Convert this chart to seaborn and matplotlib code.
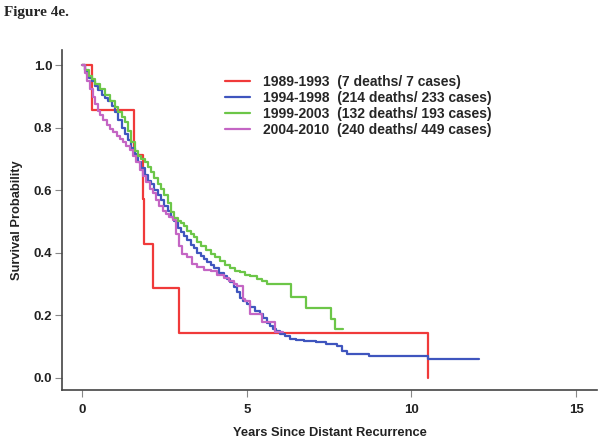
import pandas as pd
import matplotlib
matplotlib.use("Agg")
import matplotlib.pyplot as plt
import seaborn as sns

# Etiquetas de los periodos (leyenda)
periodos = [
    "1989-1993  (7 deaths/ 7 cases)",
    "1994-1998  (214 deaths/ 233 cases)",
    "1999-2003  (132 deaths/ 193 cases)",
    "2004-2010  (240 deaths/ 449 cases)",
]
colores = ["#F03A3A", "#3F55BE", "#6CC648", "#C465C4"]

# Curvas Kaplan-Meier (inicio de cada escalon)
t_1989 = [0, 0.29, 1.58, 1.84, 1.89, 2.15, 2.93, 10.5]
s_1989 = [1.0, 0.857, 0.714, 0.571, 0.429, 0.286, 0.143, 0.0]

t_1994 = [0, 0.08, 0.15, 0.22, 0.30, 0.40, 0.50, 0.60, 0.70, 0.80, 0.90, 1.00,
          1.10, 1.20, 1.30, 1.40, 1.50, 1.60, 1.70, 1.80, 1.90, 2.00, 2.10, 2.20,
          2.30, 2.40, 2.50, 2.60, 2.70, 2.80, 2.90, 3.00, 3.10, 3.20, 3.30, 3.40,
          3.50, 3.60, 3.70, 3.80, 3.90, 4.00, 4.15, 4.30, 4.40, 4.50, 4.60, 4.70,
          4.80, 4.90, 5.00, 5.10, 5.25, 5.40, 5.50, 5.60, 5.70, 5.80, 5.90, 6.00,
          6.15, 6.30, 6.50, 6.75, 7.10, 7.40, 7.75, 7.90, 8.05, 8.70, 10.50, 12.05]
s_1994 = [1.0, 0.985, 0.97, 0.96, 0.95, 0.935, 0.92, 0.905, 0.895, 0.885, 0.87, 0.85,
          0.825, 0.80, 0.78, 0.76, 0.735, 0.715, 0.69, 0.67, 0.65, 0.63, 0.62, 0.60,
          0.585, 0.57, 0.55, 0.535, 0.515, 0.50, 0.48, 0.465, 0.455, 0.44, 0.425, 0.415,
          0.40, 0.39, 0.38, 0.37, 0.36, 0.35, 0.335, 0.325, 0.315, 0.305, 0.29, 0.275,
          0.255, 0.245, 0.235, 0.225, 0.215, 0.205, 0.19, 0.175, 0.165, 0.155, 0.148, 0.14,
          0.132, 0.125, 0.12, 0.117, 0.113, 0.108, 0.100, 0.086, 0.076, 0.070, 0.060, 0.060]

t_1999 = [0, 0.10, 0.20, 0.30, 0.40, 0.55, 0.70, 0.85, 1.00, 1.10, 1.20, 1.30,
          1.40, 1.50, 1.60, 1.70, 1.80, 1.90, 2.00, 2.10, 2.20, 2.30, 2.40, 2.50,
          2.60, 2.70, 2.80, 2.90, 3.00, 3.10, 3.20, 3.30, 3.40, 3.50, 3.60, 3.75,
          3.90, 4.05, 4.20, 4.35, 4.50, 4.65, 4.80, 4.95, 5.10, 5.30, 5.45, 5.60,
          6.35, 6.80, 7.55, 7.68, 7.93]
s_1999 = [1.0, 0.985, 0.965, 0.955, 0.94, 0.925, 0.905, 0.885, 0.865, 0.85, 0.835, 0.82,
          0.79, 0.755, 0.725, 0.71, 0.70, 0.69, 0.675, 0.66, 0.64, 0.62, 0.605, 0.585,
          0.56, 0.53, 0.51, 0.50, 0.495, 0.485, 0.47, 0.46, 0.45, 0.435, 0.42, 0.41,
          0.395, 0.385, 0.372, 0.36, 0.35, 0.343, 0.337, 0.33, 0.325, 0.315, 0.308, 0.30,
          0.257, 0.224, 0.188, 0.156, 0.156]

t_2004 = [0, 0.08, 0.16, 0.24, 0.32, 0.40, 0.48, 0.56, 0.65, 0.75, 0.85, 0.95,
          1.05, 1.15, 1.25, 1.35, 1.45, 1.55, 1.65, 1.75, 1.85, 1.95, 2.05, 2.15,
          2.25, 2.35, 2.45, 2.55, 2.65, 2.75, 2.85, 2.95, 3.05, 3.20, 3.35, 3.50,
          3.70, 3.90, 4.10, 4.30, 4.45, 4.60, 4.70, 4.88, 4.95, 5.10, 5.45, 5.85, 6.11]
s_2004 = [1.0, 0.975, 0.95, 0.925, 0.90, 0.875, 0.855, 0.84, 0.825, 0.81, 0.795, 0.785,
          0.775, 0.765, 0.755, 0.742, 0.73, 0.71, 0.69, 0.665, 0.645, 0.625, 0.605, 0.59,
          0.57, 0.55, 0.535, 0.525, 0.515, 0.505, 0.46, 0.42, 0.395, 0.385, 0.365, 0.355,
          0.345, 0.34, 0.33, 0.32, 0.31, 0.30, 0.294, 0.252, 0.246, 0.204, 0.177, 0.145, 0.145]

tiempos = [t_1989, t_1994, t_1999, t_2004]
supervivencia = [s_1989, s_1994, s_1999, s_2004]

df = pd.concat(
    [pd.DataFrame({"t": t, "S": s, "periodo": p})
     for t, s, p in zip(tiempos, supervivencia, periodos)],
    ignore_index=True,
)

sns.set_style("ticks")
plt.rcParams["font.family"] = ["Liberation Sans", "DejaVu Sans"]
plt.rcParams["font.weight"] = "bold"

fig = plt.figure(figsize=(6.02, 4.45), dpi=100)
ax = fig.add_axes([62 / 602, 55 / 445, 535 / 602, 340 / 445])

sns.lineplot(data=df, x="t", y="S", hue="periodo", palette=colores,
             hue_order=periodos, estimator=None, sort=False,
             drawstyle="steps-post", linewidth=1.6, ax=ax)

ax.set_xlim(-0.607, 15.63)
ax.set_ylim(-0.0394, 1.049)
ax.set_xticks([0, 5, 10, 15])
ax.set_yticks([0.0, 0.2, 0.4, 0.6, 0.8, 1.0])
ax.set_yticklabels(["0.0", "0.2", "0.4", "0.6", "0.8", "1.0"])

for lado in ["top", "right"]:
    ax.spines[lado].set_visible(False)
for lado in ["left", "bottom"]:
    ax.spines[lado].set_color("#444444")
    ax.spines[lado].set_linewidth(1.2)

ax.tick_params(direction="out", length=5, width=0.8, color="#888888",
               labelsize=9.5, labelcolor="#222222")
ax.tick_params(axis="x", pad=5)
ax.tick_params(axis="y", pad=2)

ax.set_xlabel("Years Since Distant Recurrence", fontsize=9.3,
              fontweight="bold", color="#222222", labelpad=8)
ax.set_ylabel("Survival Probability", fontsize=9.3,
              fontweight="bold", color="#222222", labelpad=8)

handles, labels = ax.get_legend_handles_labels()
ax.legend(handles, labels, loc="upper left", bbox_to_anchor=(0.305, 0.927),
          frameon=False, fontsize=10, handlelength=1.8, handletextpad=0.9,
          labelspacing=0.15, borderpad=0, borderaxespad=0)

fig.text(4 / 602, 1 - 6 / 445, "Figure 4e.", fontsize=11, fontweight="bold",
         family=["Liberation Serif", "DejaVu Serif"], va="top", ha="left")

fig.savefig("out.png", dpi=100)
